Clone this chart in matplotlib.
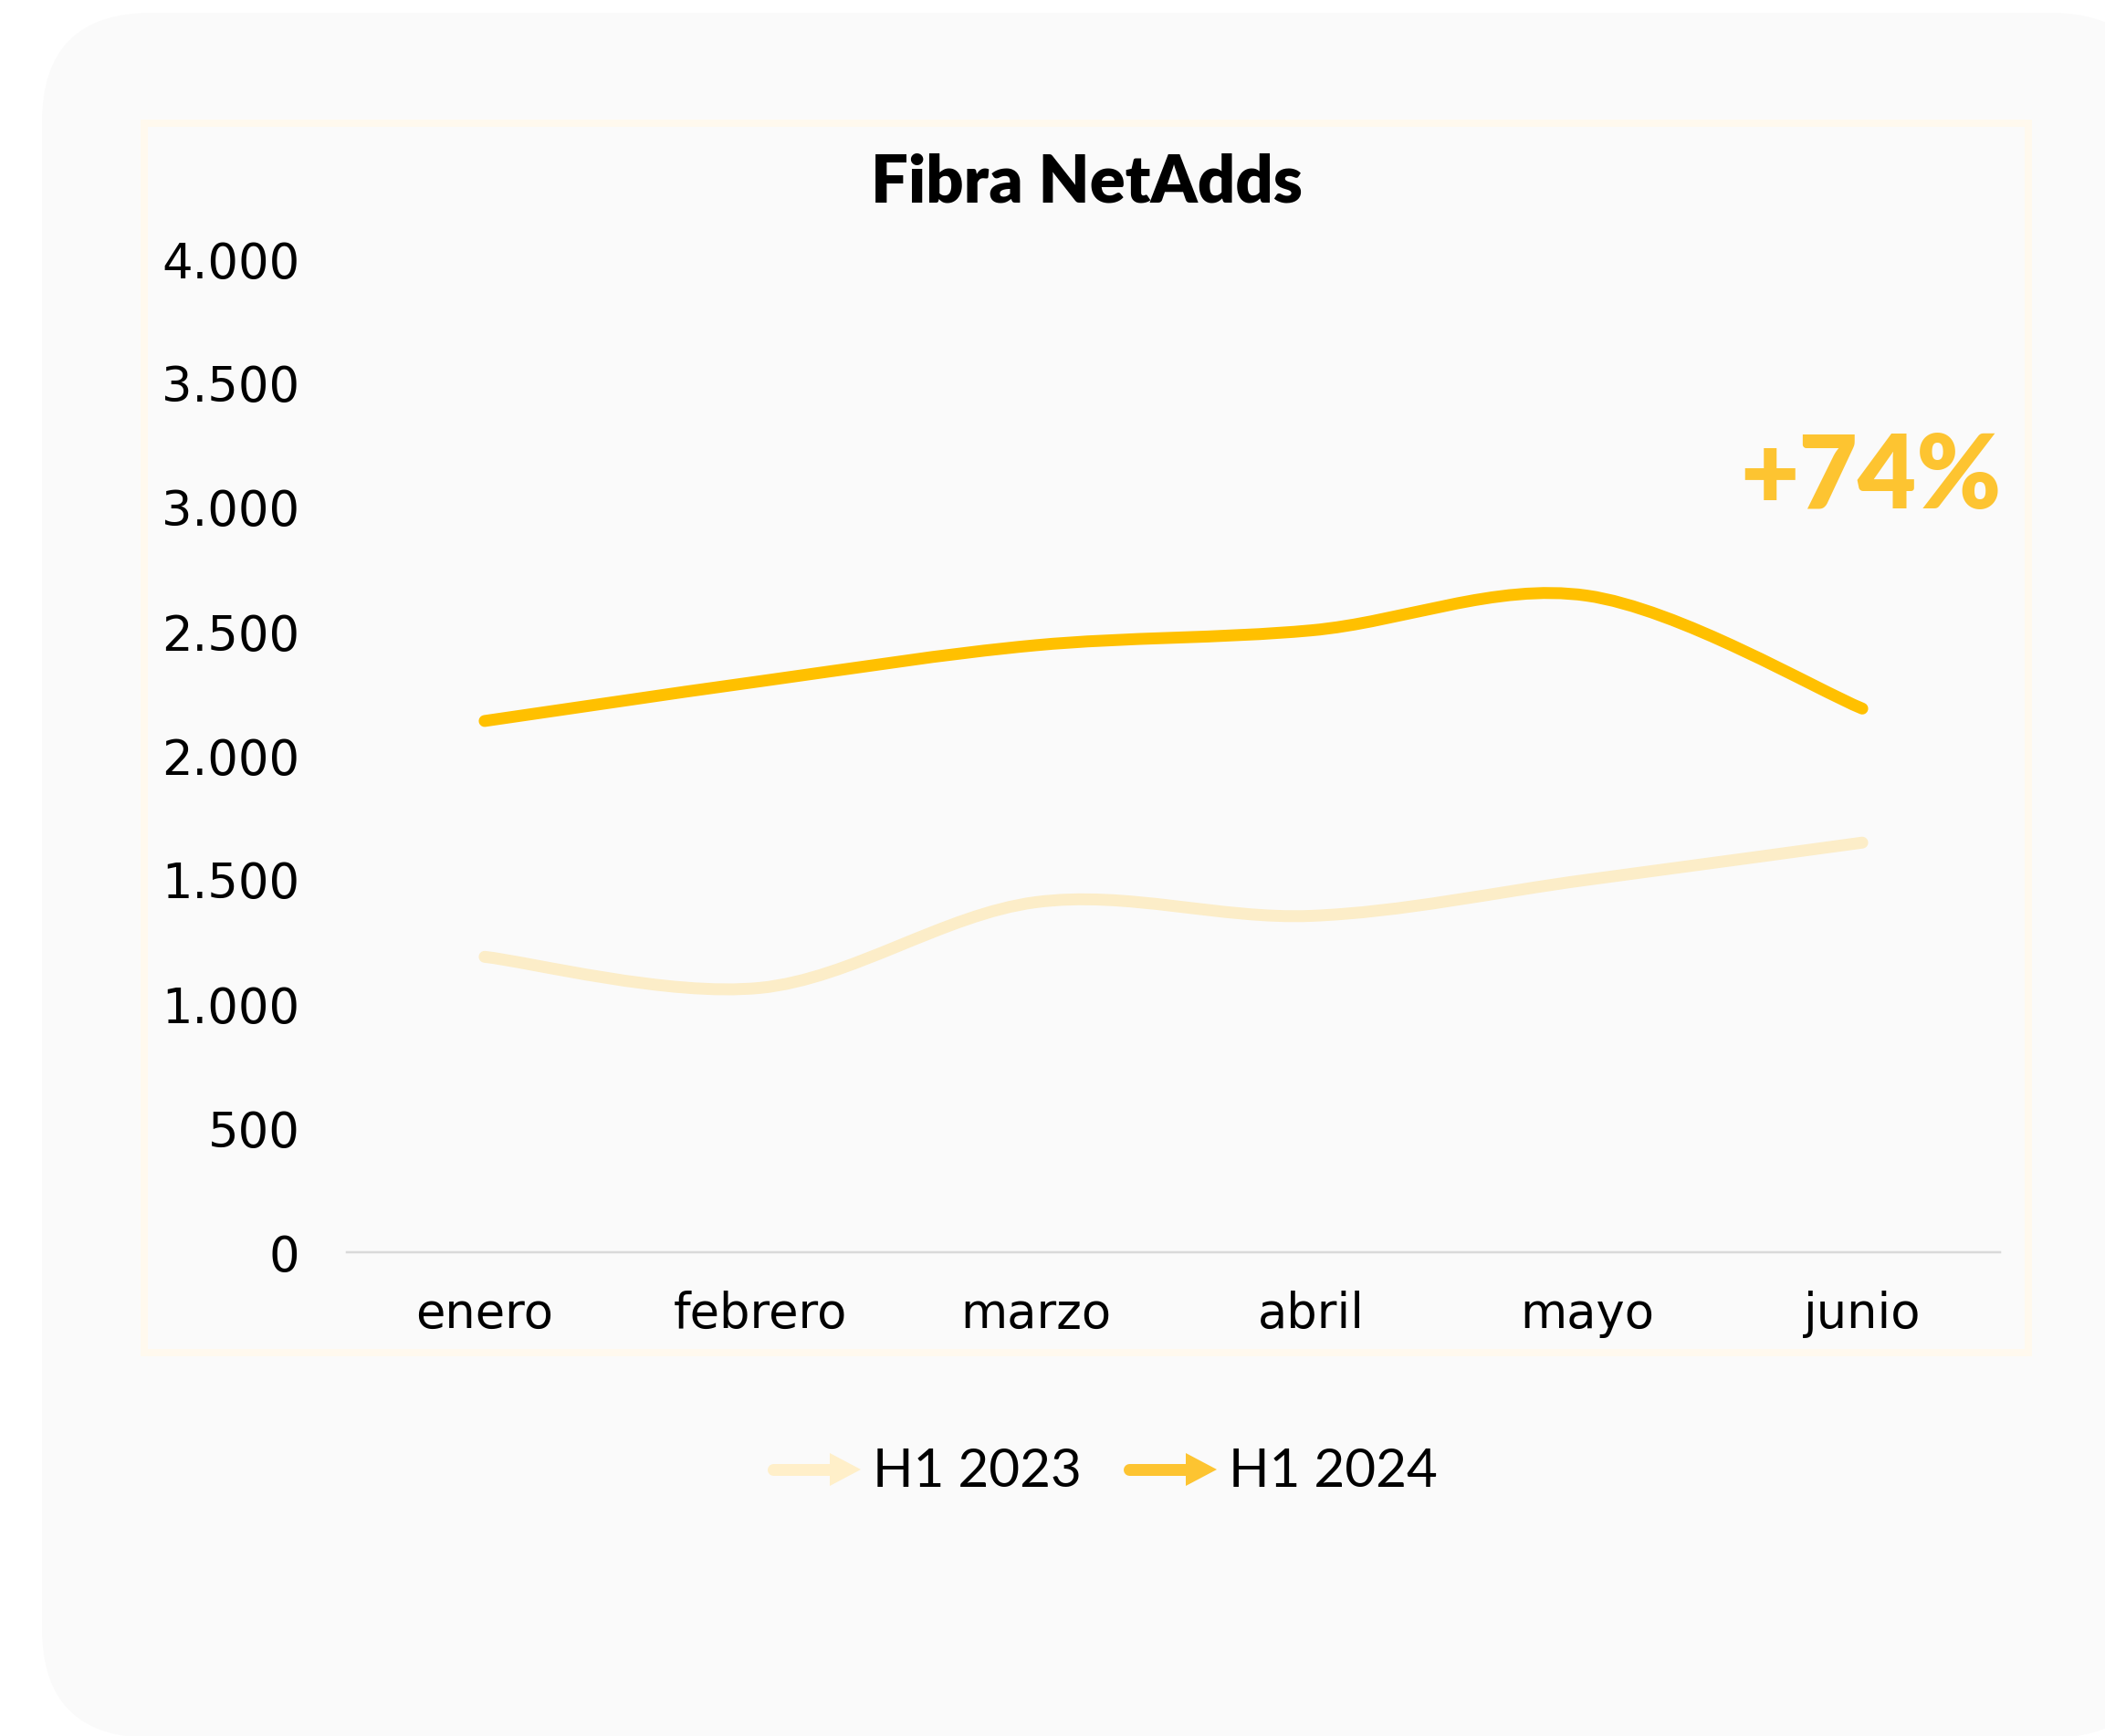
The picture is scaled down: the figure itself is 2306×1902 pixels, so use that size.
import matplotlib.pyplot as plt
import numpy as np
from matplotlib.path import Path
from matplotlib.patches import PathPatch, FancyBboxPatch, Rectangle, Polygon
from matplotlib.lines import Line2D

months = ["enero", "febrero", "marzo", "abril", "mayo", "junio"]
h1_2023 = [1190, 1065, 1410, 1355, 1500, 1650]
h1_2024 = [2140, 2300, 2445, 2505, 2645, 2190]
series_names = ["H1 2023", "H1 2024"]
yticks = [0, 500, 1000, 1500, 2000, 2500, 3000, 3500, 4000]
ytick_labels = ["0", "500", "1.000", "1.500", "2.000", "2.500", "3.000", "3.500", "4.000"]
growth_label = "+74%"

W, H = 2306, 1902
DPI = 100
PX = 72 / DPI  # points per pixel

c_2023 = "#FCEDC8"
c_2024 = "#FFC000"
c_leg_2023 = "#FFEFC9"
c_leg_2024 = "#FDC431"


def smooth_path(x, y):
	# excel-like smoothed line: catmull-rom turned into cubic beziers
	pts = np.column_stack([x, y]).astype(float)
	ext = np.vstack([pts[0], pts, pts[-1]])
	verts = [pts[0]]
	codes = [Path.MOVETO]
	for i in range(len(pts) - 1):
		p0, p1, p2, p3 = ext[i], ext[i + 1], ext[i + 2], ext[i + 3]
		verts += [p1 + (p2 - p0) / 6, p2 - (p3 - p1) / 6, p2]
		codes += [Path.CURVE4] * 3
	return Path(verts, codes)


fig = plt.figure(figsize=(W / DPI, H / DPI), dpi=DPI)
fig.patch.set_facecolor("white")

# background layer in pixel coordinates
bg = fig.add_axes([0, 0, 1, 1], zorder=0)
bg.set_xlim(0, W)
bg.set_ylim(H, 0)
bg.axis("off")
bg.add_patch(FancyBboxPatch((46, 14), 2320, 1890, boxstyle="round,pad=0,rounding_size=120",
	facecolor="#FAFAFA", edgecolor="none"))
bg.add_patch(Rectangle((158, 135), 2222 - 158, 1482 - 135, facecolor="none",
	edgecolor="#FFF9EE", linewidth=8 * PX))

# main chart
ax = fig.add_axes([380 / W, 1 - 1372 / H, (2191 - 380) / W, (1372 - 284) / H], zorder=1)
ax.set_facecolor("none")
x = np.arange(len(months))
for vals, col in [(h1_2023, c_2023), (h1_2024, c_2024)]:
	ax.add_patch(PathPatch(smooth_path(x, vals), facecolor="none", edgecolor=col,
		linewidth=13 * PX, capstyle="round", joinstyle="round"))
ax.set_xlim(-0.5, len(months) - 0.5)
ax.set_ylim(0, 4000)
ax.set_xticks(x)
ax.set_xticklabels(months)
ax.set_yticks(yticks)
ax.set_yticklabels(ytick_labels)
for s in ["top", "right", "left"]:
	ax.spines[s].set_visible(False)
ax.spines["bottom"].set_color("#D9D9D9")
ax.spines["bottom"].set_linewidth(2.5 * PX)
ax.tick_params(axis="both", length=0, labelsize=38, labelcolor="black")
ax.tick_params(axis="y", pad=37)
ax.tick_params(axis="x", pad=30)

fig.text(1190 / W, 1 - 222 / H, "Fibra NetAdds", family="Lato", weight="heavy",
	fontsize=52, ha="center", va="baseline")
fig.text(1906 / W, 1 - 557 / H, growth_label, family="Lato", weight="heavy",
	fontsize=80, color=c_leg_2024, ha="left", va="baseline")

# legend with arrow symbols
for x0, col, name in [(841, c_leg_2023, series_names[0]), (1231, c_leg_2024, series_names[1])]:
	yc = 1610
	bg.add_line(Line2D([x0 + 6, x0 + 70], [yc, yc], color=col, linewidth=13 * PX,
		solid_capstyle="round"))
	bg.add_patch(Polygon([[x0 + 68, yc - 18], [x0 + 102, yc], [x0 + 68, yc + 18]],
		closed=True, facecolor=col, edgecolor="none"))
	bg.text(x0 + 115, 1629, name, family="Lato", fontsize=42, ha="left", va="baseline")

fig.savefig("out.png", dpi=DPI)
